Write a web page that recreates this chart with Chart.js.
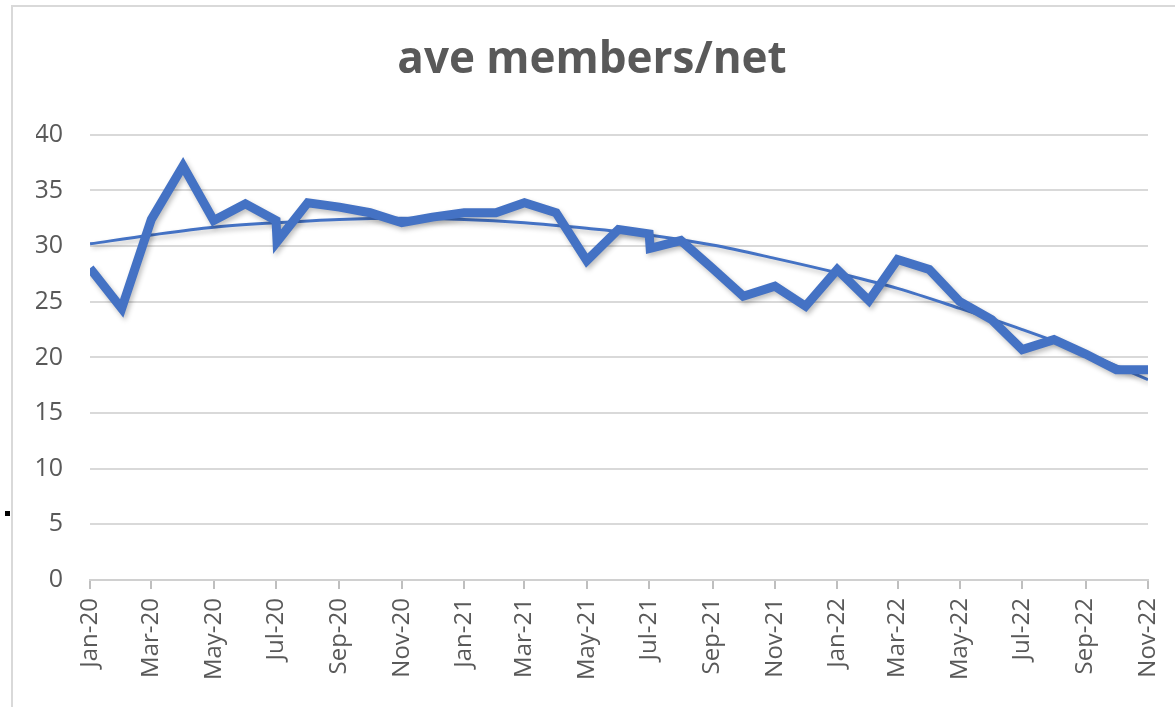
<!DOCTYPE html>
<html>
<head>
<meta charset="utf-8">
<script src="https://cdn.jsdelivr.net/npm/chart.js@4.4.0/dist/chart.umd.min.js"></script>
<style>
  body { margin: 0; background: #fff; }
  #wrap { position: relative; width: 1175px; height: 707px; overflow: hidden; }
  #frame { position: absolute; left: 11px; top: 5px; width: 1300px; height: 800px;
           border-top: 2px solid #d9d9d9; border-left: 2px solid #d9d9d9; }
  #dot { position: absolute; left: 5px; top: 511px; width: 5px; height: 5px; background: #000; }
  canvas { position: absolute; left: 0; top: 0; }
</style>
</head>
<body>
<div id="wrap">
  <div id="frame"></div>
  <div id="dot"></div>
  <canvas id="myChart" width="1175" height="707"></canvas>
</div>
<script>
// monthly averages (the two July entries appear twice in the source)
const dates = ['2020-01-01','2020-02-01','2020-03-01','2020-04-01','2020-05-01','2020-06-01',
  '2020-07-01','2020-07-02','2020-08-01','2020-09-01','2020-10-01','2020-11-01','2020-12-01',
  '2021-01-01','2021-02-01','2021-03-01','2021-04-01','2021-05-01','2021-06-01',
  '2021-07-01','2021-07-02','2021-08-01','2021-09-01','2021-10-01','2021-11-01','2021-12-01',
  '2022-01-01','2022-02-01','2022-03-01','2022-04-01','2022-05-01','2022-06-01',
  '2022-07-01','2022-08-01','2022-09-01','2022-10-01','2022-11-01'];
const members = [28.0, 24.4, 32.4, 37.2, 32.3, 33.8,
  32.3, 30.4, 33.9, 33.5, 33.0, 32.1, 32.6,
  33.0, 33.0, 33.9, 33.0, 28.7, 31.5,
  31.1, 29.8, 30.5, 28.0, 25.5, 26.4, 24.6,
  27.9, 25.1, 28.8, 27.9, 25.0, 23.4,
  20.7, 21.6, 20.3, 18.9, 18.9];

// polynomial trendline
const trendDates = ['2020-01-01','2020-03-01','2020-05-01','2020-07-01','2020-09-01','2020-11-01',
  '2021-01-01','2021-03-01','2021-05-01','2021-07-01','2021-09-01','2021-11-01',
  '2022-01-01','2022-03-01','2022-05-01','2022-07-01','2022-09-01','2022-11-01'];
const trend = [30.2, 31.0, 31.7, 32.1, 32.4, 32.5,
  32.4, 32.1, 31.6, 31.0, 30.1, 28.9,
  27.6, 26.2, 24.4, 22.5, 20.4, 18.0];

const tickDates = ['2020-01-01','2020-03-01','2020-05-01','2020-07-01','2020-09-01','2020-11-01',
  '2021-01-01','2021-03-01','2021-05-01','2021-07-01','2021-09-01','2021-11-01',
  '2022-01-01','2022-03-01','2022-05-01','2022-07-01','2022-09-01','2022-11-01'];
const tickLabels = ['Jan-20','Mar-20','May-20','Jul-20','Sep-20','Nov-20',
  'Jan-21','Mar-21','May-21','Jul-21','Sep-21','Nov-21',
  'Jan-22','Mar-22','May-22','Jul-22','Sep-22','Nov-22'];

let start = Date.UTC(2020, 0, 1);
let toDay = (s) => {
    let p = s.split('-');
    return (Date.UTC(+p[0], +p[1] - 1, +p[2]) - start) / 86400000;
};
let tickDays = tickDates.map(toDay);

let shadow = {
    id: 'shadow',
    beforeDatasetDraw(chart, args) {
        let ctx = chart.ctx;
        ctx.save();
        ctx.shadowColor = 'rgba(0,0,0,0.25)';
        ctx.shadowBlur = 5;
        ctx.shadowOffsetX = 2;
        ctx.shadowOffsetY = 3;
    },
    afterDatasetDraw(chart) {
        chart.ctx.restore();
    }
};

let ctx = document.getElementById('myChart').getContext('2d');
let chart = new Chart(ctx, {
    type: 'line',
    data: {
        datasets: [
            {
                label: 'ave members/net',
                data: dates.map((d, i) => ({ x: toDay(d), y: members[i] })),
                borderColor: '#4472C4',
                borderWidth: 9,
                borderJoinStyle: 'miter',
                pointRadius: 0,
                fill: false,
                tension: 0
            },
            {
                label: 'Poly. (ave members/net)',
                data: trendDates.map((d, i) => ({ x: toDay(d), y: trend[i] })),
                borderColor: '#4472C4',
                borderWidth: 3,
                pointRadius: 0,
                fill: false,
                cubicInterpolationMode: 'monotone'
            }
        ]
    },
    plugins: [shadow],
    options: {
        responsive: false,
        animation: false,
        layout: { padding: { left: 36, right: 27, top: 0, bottom: 0 } },
        plugins: {
            legend: { display: false },
            tooltip: { enabled: false },
            title: {
                display: true,
                text: 'ave members/net',
                color: '#595959',
                font: { family: 'Open Sans', size: 44, weight: 'bold' },
                padding: { top: 34, bottom: 48 }
            }
        },
        scales: {
            x: {
                type: 'linear',
                min: 0,
                max: toDay('2022-11-01'),
                afterBuildTicks: (scale) => {
                    scale.ticks = tickDays.map(v => ({ value: v }));
                },
                afterFit: (scale) => {
                    scale.height = 127;
                    scale.paddingLeft = 0;
                    scale.paddingRight = 0;
                },
                grid: { drawOnChartArea: false, color: '#bfbfbf', tickLength: 9, lineWidth: 2 },
                border: { color: '#d0d0d0', width: 2 },
                ticks: {
                    autoSkip: false,
                    minRotation: 90,
                    maxRotation: 90,
                    padding: 9,
                    color: '#595959',
                    font: { family: 'Open Sans', size: 24 },
                    callback: (v) => tickLabels[tickDays.indexOf(v)]
                }
            },
            y: {
                min: 0,
                max: 40,
                afterFit: (scale) => { scale.width = 54; },
                grid: { color: '#d9d9d9', lineWidth: 2, drawTicks: false },
                border: { display: false },
                ticks: {
                    stepSize: 5,
                    padding: 27,
                    color: '#595959',
                    font: { family: 'Open Sans', size: 25 }
                }
            }
        }
    }
});
</script>
</body>
</html>
